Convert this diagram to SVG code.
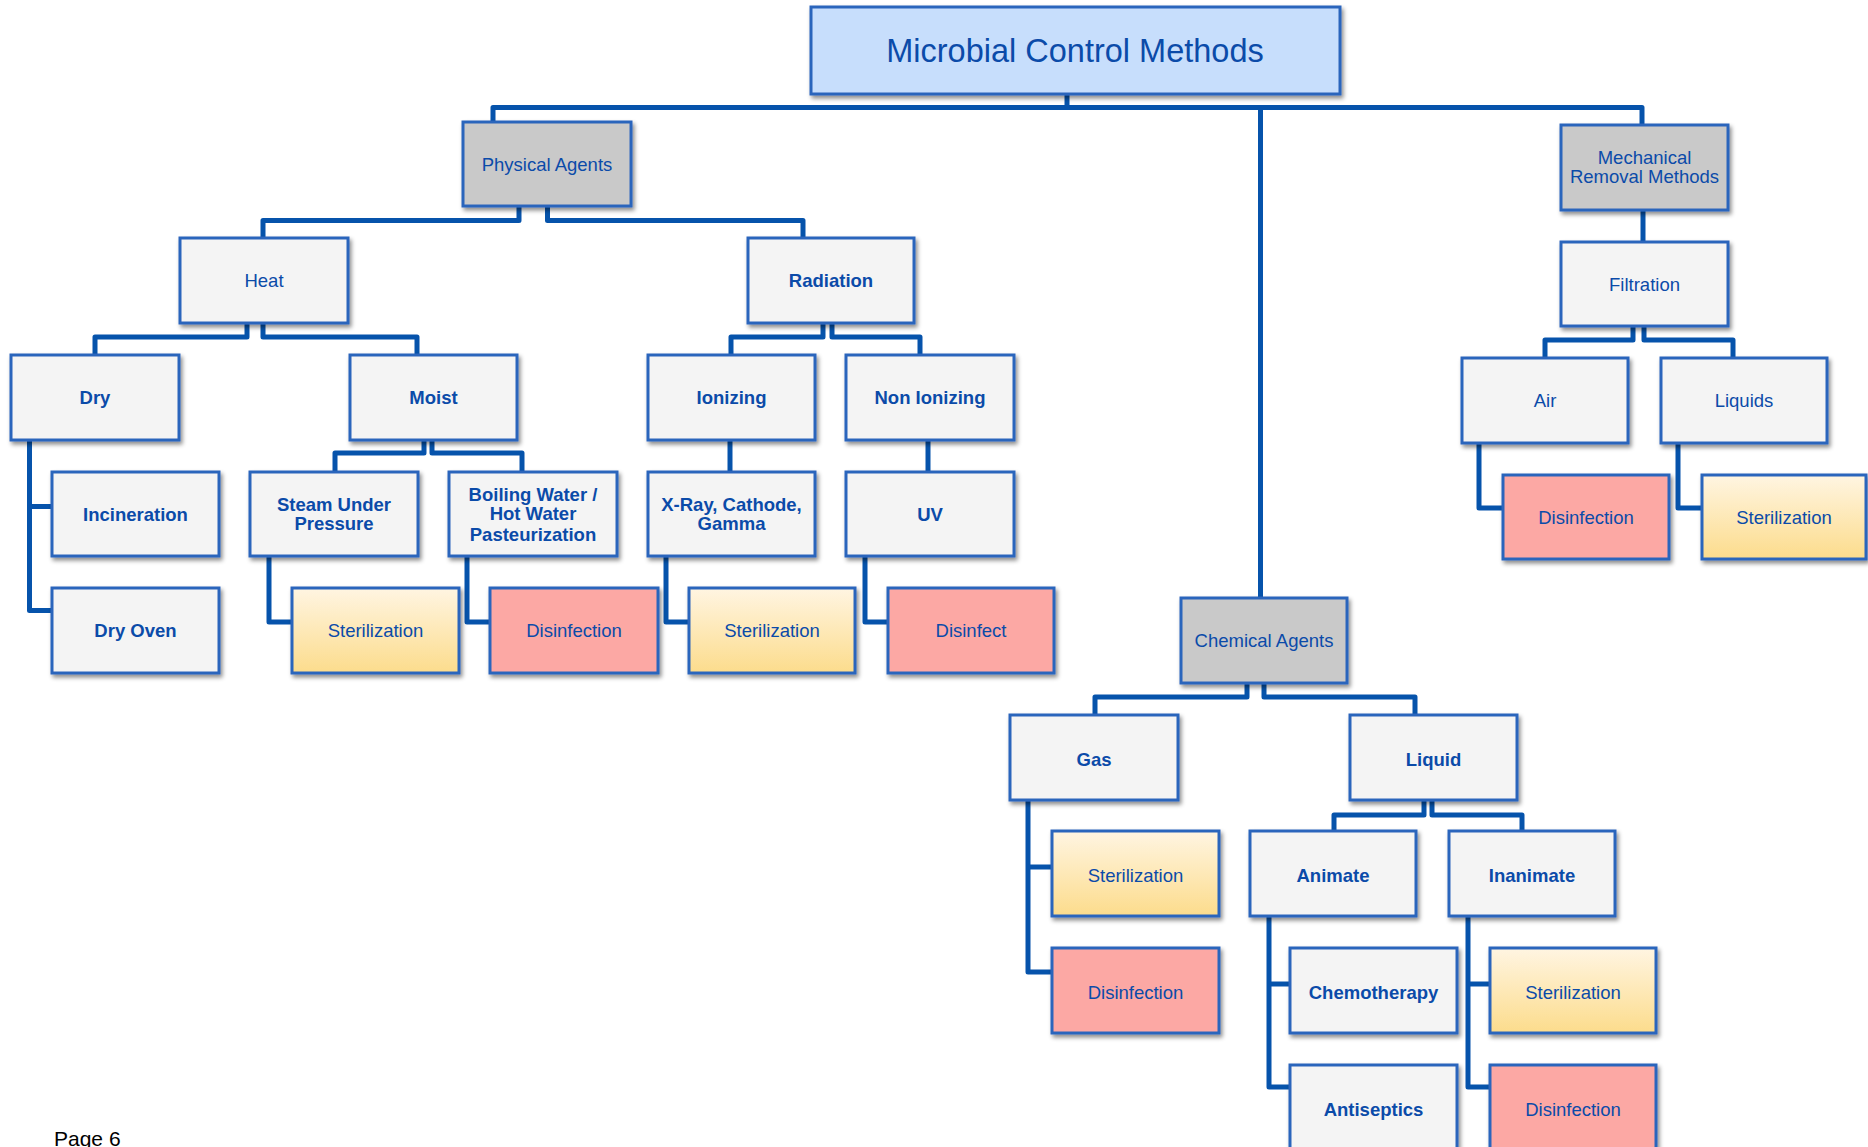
<svg xmlns="http://www.w3.org/2000/svg" width="1868" height="1147" viewBox="0 0 1868 1147">
<defs>
<linearGradient id="yg" x1="0" y1="0" x2="0" y2="1">
<stop offset="0" stop-color="#fff5e2"/>
<stop offset="1" stop-color="#fcdc8c"/>
</linearGradient>
<filter id="sh" x="-10%" y="-10%" width="125%" height="130%">
<feDropShadow dx="2" dy="3" stdDeviation="2" flood-color="#000" flood-opacity="0.45"/>
</filter>
<style>
.b{stroke:#2c65bc;stroke-width:3;filter:url(#sh)}
.lt{fill:#f4f4f4}
.gr{fill:#c9c9c9}
.rt{fill:#c7defc}
.yl{fill:url(#yg)}
.rd{fill:#fca8a4}
text{font-family:"Liberation Sans",Arial,sans-serif;font-size:18.5px;fill:#0b4ba9;text-anchor:middle}
.bd{font-weight:bold}
.c{fill:none;stroke:#0653ab;stroke-width:5;stroke-linejoin:round}
</style>
</defs>
<rect width="1868" height="1147" fill="#fff"/>
<g id="connectors" class="c">
<path d="M493,122 V107.5 H1642 V125"/>
<path d="M1067,94 V107.5"/>
<path d="M1260.5,107.5 V598"/>
<path d="M519,206 V220.5 H263 V238"/>
<path d="M547.5,206 V220.5 H803 V238"/>
<path d="M247,323 V337 H95 V355"/>
<path d="M263,323 V337 H417 V355"/>
<path d="M823,323 V337 H731 V355"/>
<path d="M832,323 V337 H920 V355"/>
<path d="M29.5,440 V610.5 H52"/>
<path d="M29.5,506.5 H52"/>
<path d="M424,440 V453 H335 V472"/>
<path d="M432,440 V453 H522 V472"/>
<path d="M730,440 V472"/>
<path d="M928,440 V472"/>
<path d="M269,556 V622 H292"/>
<path d="M467,556 V622 H490"/>
<path d="M666,556 V622 H689"/>
<path d="M865,556 V622 H888"/>
<path d="M1643,210 V242"/>
<path d="M1633,326 V340 H1545 V358"/>
<path d="M1644,326 V340 H1733 V358"/>
<path d="M1479,443 V508 H1503"/>
<path d="M1678,443 V508 H1702"/>
<path d="M1247,683 V697 H1095 V715"/>
<path d="M1264,683 V697 H1415 V715"/>
<path d="M1028,800 V972 H1052"/>
<path d="M1028,867 H1052"/>
<path d="M1424,800 V815 H1334 V831"/>
<path d="M1432,800 V815 H1522 V831"/>
<path d="M1269,916 V1087 H1290"/>
<path d="M1269,984 H1290"/>
<path d="M1468,916 V1087 H1490"/>
<path d="M1468,984 H1490"/>
</g>
<g id="root"><rect class="b rt" x="811" y="7" width="529" height="87"/><text x="1075" y="62" style="font-size:32.5px">Microbial Control Methods</text></g>
<g id="physical"><rect class="b gr" x="463" y="122" width="168" height="84"/><text x="547" y="170.5">Physical Agents</text></g>
<g id="mechanical"><rect class="b gr" x="1561" y="125" width="167" height="85"/><text x="1644.5" y="164">Mechanical</text><text x="1644.5" y="183">Removal Methods</text></g>
<g id="heat"><rect class="b lt" x="180" y="238" width="168" height="85"/><text x="264" y="287">Heat</text></g>
<g id="radiation"><rect class="b lt" x="748" y="238" width="166" height="85"/><text class="bd" x="831" y="287">Radiation</text></g>
<g id="filtration"><rect class="b lt" x="1561" y="242" width="167" height="84"/><text x="1644.5" y="290.5">Filtration</text></g>
<g id="dry"><rect class="b lt" x="11" y="355" width="168" height="85"/><text class="bd" x="95" y="404">Dry</text></g>
<g id="moist"><rect class="b lt" x="350" y="355" width="167" height="85"/><text class="bd" x="433.5" y="404">Moist</text></g>
<g id="ionizing"><rect class="b lt" x="648" y="355" width="167" height="85"/><text class="bd" x="731.5" y="404">Ionizing</text></g>
<g id="nonionizing"><rect class="b lt" x="846" y="355" width="168" height="85"/><text class="bd" x="930" y="404">Non Ionizing</text></g>
<g id="air"><rect class="b lt" x="1462" y="358" width="166" height="85"/><text x="1545" y="407">Air</text></g>
<g id="liquids"><rect class="b lt" x="1661" y="358" width="166" height="85"/><text x="1744" y="407">Liquids</text></g>
<g id="incineration"><rect class="b lt" x="52" y="472" width="167" height="84"/><text class="bd" x="135.5" y="520.5">Incineration</text></g>
<g id="steam"><rect class="b lt" x="250" y="472" width="168" height="84"/><text class="bd" x="334" y="510.5">Steam Under</text><text class="bd" x="334" y="529.5">Pressure</text></g>
<g id="boiling"><rect class="b lt" x="449" y="472" width="168" height="84"/><text class="bd" x="533" y="500.5">Boiling Water /</text><text class="bd" x="533" y="519.5">Hot Water</text><text class="bd" x="533" y="540.5">Pasteurization</text></g>
<g id="xray"><rect class="b lt" x="648" y="472" width="167" height="84"/><text class="bd" x="731.5" y="510.5">X-Ray, Cathode,</text><text class="bd" x="731.5" y="529.5">Gamma</text></g>
<g id="uv"><rect class="b lt" x="846" y="472" width="168" height="84"/><text class="bd" x="930" y="520.5">UV</text></g>
<g id="air-disinfection"><rect class="b rd" x="1503" y="475" width="166" height="84"/><text x="1586" y="523.5">Disinfection</text></g>
<g id="liquids-sterilization"><rect class="b yl" x="1702" y="475" width="164" height="84"/><text x="1784" y="523.5">Sterilization</text></g>
<g id="dryoven"><rect class="b lt" x="52" y="588" width="167" height="85"/><text class="bd" x="135.5" y="637">Dry Oven</text></g>
<g id="steam-sterilization"><rect class="b yl" x="292" y="588" width="167" height="85"/><text x="375.5" y="637">Sterilization</text></g>
<g id="boiling-disinfection"><rect class="b rd" x="490" y="588" width="168" height="85"/><text x="574" y="637">Disinfection</text></g>
<g id="xray-sterilization"><rect class="b yl" x="689" y="588" width="166" height="85"/><text x="772" y="637">Sterilization</text></g>
<g id="uv-disinfect"><rect class="b rd" x="888" y="588" width="166" height="85"/><text x="971" y="637">Disinfect</text></g>
<g id="chemical"><rect class="b gr" x="1181" y="598" width="166" height="85"/><text x="1264" y="647">Chemical Agents</text></g>
<g id="gas"><rect class="b lt" x="1010" y="715" width="168" height="85"/><text class="bd" x="1094" y="765.5">Gas</text></g>
<g id="liquid"><rect class="b lt" x="1350" y="715" width="167" height="85"/><text class="bd" x="1433.5" y="765.5">Liquid</text></g>
<g id="gas-sterilization"><rect class="b yl" x="1052" y="831" width="167" height="85"/><text x="1135.5" y="881.5">Sterilization</text></g>
<g id="animate"><rect class="b lt" x="1250" y="831" width="166" height="85"/><text class="bd" x="1333" y="881.5">Animate</text></g>
<g id="inanimate"><rect class="b lt" x="1449" y="831" width="166" height="85"/><text class="bd" x="1532" y="881.5">Inanimate</text></g>
<g id="gas-disinfection"><rect class="b rd" x="1052" y="948" width="167" height="85"/><text x="1135.5" y="998.5">Disinfection</text></g>
<g id="chemotherapy"><rect class="b lt" x="1290" y="948" width="167" height="85"/><text class="bd" x="1373.5" y="998.5">Chemotherapy</text></g>
<g id="inanimate-sterilization"><rect class="b yl" x="1490" y="948" width="166" height="85"/><text x="1573" y="998.5">Sterilization</text></g>
<g id="antiseptics"><rect class="b lt" x="1290" y="1065" width="167" height="95"/><text class="bd" x="1373.5" y="1115.5">Antiseptics</text></g>
<g id="inanimate-disinfection"><rect class="b rd" x="1490" y="1065" width="166" height="95"/><text x="1573" y="1115.5">Disinfection</text></g>
<text x="54" y="1146" style="font-size:21px;fill:#000;text-anchor:start">Page 6</text>
</svg>
